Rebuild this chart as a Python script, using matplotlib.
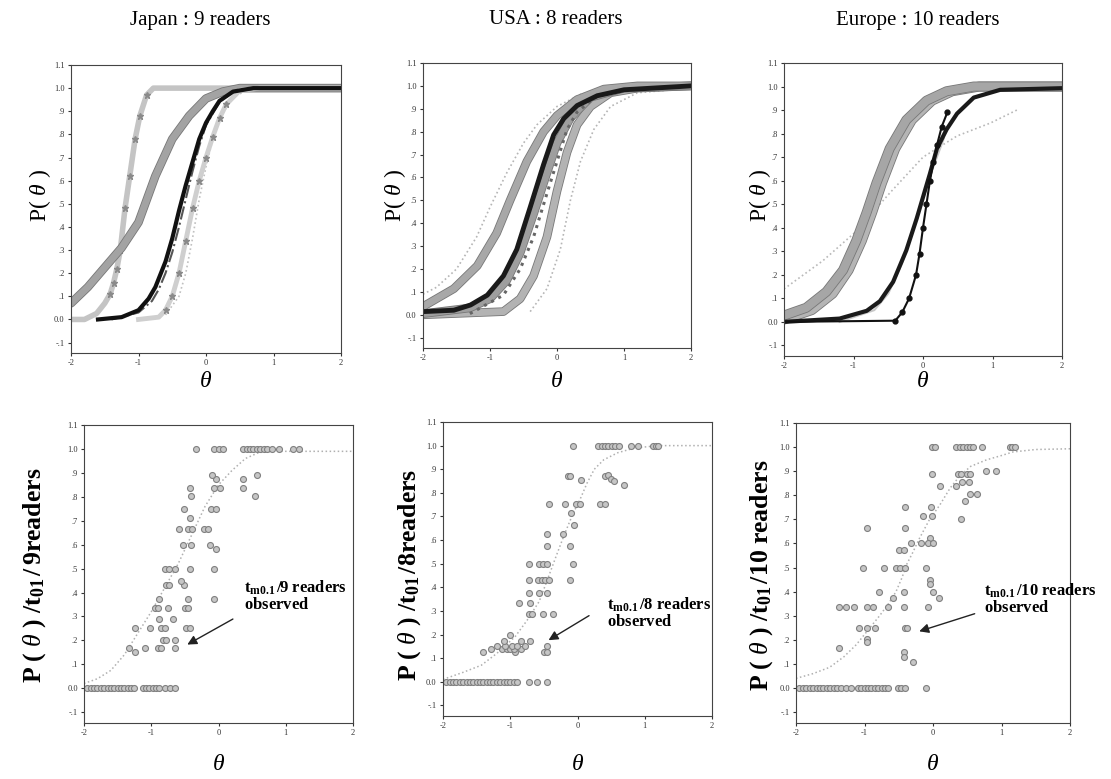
import matplotlib
matplotlib.use("Agg")
import matplotlib.pyplot as plt
import matplotlib.patheffects as pe

plt.rcParams['font.family'] = ['Liberation Serif', 'DejaVu Serif']
plt.rcParams['mathtext.fontset'] = 'custom'
plt.rcParams['mathtext.rm'] = 'Liberation Serif'
plt.rcParams['mathtext.it'] = 'Liberation Serif:italic'
plt.rcParams['mathtext.bf'] = 'Liberation Serif:bold'

W, H = 1111, 779

# ---------------- data ----------------
titles = ["Japan : 9 readers", "USA : 8 readers", "Europe : 10 readers"]
ytick_vals = [-0.1, 0.0, 0.1, 0.2, 0.3, 0.4, 0.5, 0.6, 0.7, 0.8, 0.9, 1.0, 1.1]
ytick_labels = ["-.1", "0.0", ".1", ".2", ".3", ".4", ".5", ".6", ".7", ".8", ".9", "1.0", "1.1"]
xtick_vals = [-2, -1, 0, 1, 2]
xtick_labels = ["-2", "-1", "0", "1", "2"]

# --- Japan ICC curves (top) ---
jp_a_x = [-2.0, -1.8, -1.62, -1.5, -1.42, -1.37, -1.32, -1.27, -1.2, -1.13, -1.05, -0.98, -0.88, -0.78, 2.0]
jp_a_y = [0.0, 0.0, 0.026, 0.07, 0.11, 0.157, 0.22, 0.30, 0.48, 0.62, 0.78, 0.88, 0.97, 1.0, 1.0]
jp_b_x = [-2.0, -1.75, -1.5, -1.25, -1.0, -0.75, -0.5, -0.25, 0.0, 0.25, 0.5, 1.0, 2.0]
jp_b_y = [0.07, 0.14, 0.225, 0.31, 0.42, 0.62, 0.78, 0.88, 0.955, 0.985, 1.0, 1.0, 1.0]
jp_c_x = [-1.6, -1.25, -1.0, -0.85, -0.75, -0.6, -0.5, -0.4, -0.3, -0.2, -0.1, 0.0, 0.1, 0.2, 0.4, 0.7, 2.0]
jp_c_y = [0.0, 0.01, 0.04, 0.09, 0.14, 0.25, 0.35, 0.47, 0.58, 0.68, 0.78, 0.85, 0.90, 0.945, 0.985, 1.0, 1.0]
jp_d_x = [-1.4, -1.0, -0.8, -0.7, -0.6, -0.5, -0.4, -0.3, -0.2, -0.1, 0.0, 0.2, 0.4, 0.8]
jp_d_y = [0.0, 0.03, 0.08, 0.13, 0.2, 0.29, 0.4, 0.52, 0.64, 0.75, 0.84, 0.94, 0.985, 1.0]
jp_e_x = [-1.0, -0.7, -0.6, -0.5, -0.4, -0.3, -0.2, -0.1, 0.0, 0.1, 0.2, 0.3, 0.5, 0.8, 2.0]
jp_e_y = [0.0, 0.01, 0.04, 0.10, 0.2, 0.34, 0.48, 0.6, 0.7, 0.79, 0.87, 0.93, 0.99, 1.0, 1.0]
jp_f_x = [-0.6, -0.4, -0.3, -0.2, -0.1, 0.0, 0.1, 0.2, 0.4, 0.6]
jp_f_y = [0.02, 0.1, 0.2, 0.35, 0.52, 0.66, 0.78, 0.87, 0.96, 0.99]

# --- USA ICC curves (top) ---
us_1_x = [-2.0, -1.54, -1.19, -0.9, -0.7, -0.45, -0.2, 0.0, 0.3, 0.7, 1.2, 2.0]
us_1_y = [0.036, 0.114, 0.214, 0.357, 0.5, 0.67, 0.8, 0.87, 0.94, 0.986, 1.0, 1.0]
us_2_x = [-2.0, -1.54, -1.29, -1.04, -0.8, -0.6, -0.4, -0.2, -0.05, 0.1, 0.3, 0.6, 1.0, 2.0]
us_2_y = [0.014, 0.02, 0.043, 0.086, 0.17, 0.286, 0.47, 0.657, 0.786, 0.857, 0.914, 0.957, 0.983, 1.0]
us_3_x = [-1.3, -0.8, -0.55, -0.35, -0.15, 0.0, 0.15, 0.3, 0.6, 1.0]
us_3_y = [0.005, 0.086, 0.2, 0.34, 0.53, 0.67, 0.81, 0.886, 0.957, 0.99]
us_4_x = [-2.0, -0.8, -0.55, -0.35, -0.15, 0.0, 0.15, 0.3, 0.5, 0.8, 1.2, 2.0]
us_4_y = [0.0, 0.014, 0.07, 0.17, 0.34, 0.54, 0.71, 0.83, 0.91, 0.97, 0.99, 1.0]
us_5_x = [-0.4, -0.15, 0.05, 0.2, 0.35, 0.55, 0.8, 1.2, 2.0]
us_5_y = [0.014, 0.114, 0.286, 0.5, 0.67, 0.81, 0.91, 0.97, 0.99]
us_6_x = [-2.0, -1.8, -1.5, -1.2, -1.0, -0.75, -0.5, -0.3, 0.0, 0.4]
us_6_y = [0.09, 0.12, 0.2, 0.34, 0.47, 0.62, 0.75, 0.83, 0.91, 0.97]
us_7_x = [-2.0, -1.3, -1.0, -0.75, -0.55, -0.35, -0.15, 0.0, 0.2, 0.5, 1.0, 2.0]
us_7_y = [0.005, 0.03, 0.07, 0.15, 0.27, 0.44, 0.62, 0.75, 0.86, 0.95, 0.99, 1.0]

# --- Europe ICC curves (top) ---
eu_1_x = [-2.0, -1.68, -1.39, -1.15, -0.96, -0.81, -0.67, -0.48, -0.24, 0.05, 0.34, 0.73, 2.0]
eu_1_y = [0.027, 0.06, 0.128, 0.22, 0.345, 0.466, 0.59, 0.736, 0.858, 0.94, 0.98, 1.0, 1.0]
eu_2_x = [-2.0, -1.6, -1.3, -1.07, -0.88, -0.73, -0.59, -0.4, -0.16, 0.13, 0.42, 0.81, 2.0]
eu_2_y = [0.01, 0.05, 0.12, 0.22, 0.345, 0.466, 0.59, 0.736, 0.858, 0.94, 0.98, 1.0, 1.0]
eu_3_x = [-2.0, -1.44, -0.96, -0.48, 0.0, 0.49, 0.97, 1.35]
eu_3_y = [0.14, 0.26, 0.385, 0.547, 0.7, 0.79, 0.845, 0.9]
eu_4_x = [-2.0, -1.2, -0.81, -0.62, -0.43, -0.24, -0.09, 0.03, 0.1, 0.2, 0.34, 0.49, 0.73, 1.11, 2.0]
eu_4_y = [0.0, 0.014, 0.047, 0.088, 0.17, 0.304, 0.44, 0.56, 0.63, 0.736, 0.818, 0.885, 0.953, 0.986, 0.993]
eu_5_x = [-2.0, -0.4, -0.3, -0.2, -0.1, -0.05, 0.0, 0.05, 0.1, 0.15, 0.2, 0.27, 0.35]
eu_5_y = [0.0, 0.005, 0.04, 0.1, 0.2, 0.29, 0.4, 0.5, 0.6, 0.68, 0.75, 0.83, 0.89]
eu_6_x = [-1.2, -0.7, -0.5, -0.3, -0.15, 0.0, 0.15, 0.3]
eu_6_y = [0.0, 0.05, 0.12, 0.25, 0.38, 0.52, 0.66, 0.78]

# --- bottom: observed proportions and fitted curve ---
jp_zero_x = [-1.95, -1.9, -1.85, -1.8, -1.75, -1.7, -1.65, -1.6, -1.55, -1.5, -1.45, -1.4, -1.35, -1.3, -1.25,
             -1.13, -1.08, -1.03, -0.98, -0.93, -0.88, -0.8, -0.72, -0.65]
jp_one_x = [-0.34, -0.07, 0.0, 0.07, 0.36, 0.42, 0.47, 0.52, 0.57, 0.62, 0.67, 0.72, 0.8, 0.9, 1.11, 1.2]
jp_mid_x = [-1.33, -1.09, -0.9, -0.85, -0.65, -1.24, -0.83, -0.78, -0.65, -1.24, -1.02, -0.85, -0.8, -0.48, -0.43,
            -0.88, -0.68, -0.95, -0.9, -0.75, -0.5, -0.45, -0.88, -0.46, -0.06, -0.78, -0.73, -0.52, -0.56,
            -0.8, -0.73, -0.65, -0.43, -0.06, -0.53, -0.41, -0.13, -0.04, -0.58, -0.46, -0.4, -0.21, -0.16,
            -0.43, -0.52, -0.11, -0.04, -0.41, 0.54, -0.43, -0.06, 0.02, 0.36, 0.36, -0.03, -0.09, 0.57]
jp_mid_y = [0.17, 0.17, 0.17, 0.17, 0.17, 0.15, 0.20, 0.20, 0.20, 0.25, 0.25, 0.25, 0.25, 0.25, 0.25,
            0.29, 0.29, 0.335, 0.335, 0.335, 0.335, 0.335, 0.375, 0.375, 0.375, 0.43, 0.43, 0.43, 0.45,
            0.5, 0.5, 0.5, 0.5, 0.5, 0.6, 0.6, 0.6, 0.58, 0.665, 0.665, 0.665, 0.665, 0.665,
            0.71, 0.75, 0.75, 0.75, 0.805, 0.805, 0.835, 0.835, 0.835, 0.835, 0.873, 0.875, 0.89, 0.89]
jp_fit_x = [-2.0, -1.8, -1.6, -1.4, -1.2, -1.0, -0.8, -0.6, -0.4, -0.2, 0.0, 0.2, 0.4, 0.6, 0.8, 1.0, 1.5, 2.0]
jp_fit_y = [0.02, 0.04, 0.075, 0.14, 0.23, 0.32, 0.42, 0.52, 0.64, 0.76, 0.85, 0.91, 0.96, 0.985, 0.99, 0.99, 0.99, 0.99]

us_zero_x = [-1.95, -1.9, -1.85, -1.8, -1.75, -1.7, -1.65, -1.6, -1.55, -1.5, -1.45, -1.4, -1.35, -1.3, -1.25,
             -1.2, -1.15, -1.1, -1.05, -1.0, -0.95, -0.9, -0.72, -0.6, -0.45]
us_one_x = [-0.07, 0.31, 0.36, 0.41, 0.46, 0.51, 0.56, 0.62, 0.8, 0.9, 1.12, 1.17, 1.2]
us_mid_x = [-1.41, -0.93, -0.5, -0.46, -1.28, -1.12, -1.05, -1.0, -0.95, -0.84, -1.2, -1.08, -0.98, -0.9, -0.78,
            -0.45, -1.1, -0.84, -0.7, -1.0, -0.72, -0.67, -0.52, -0.37, -0.87, -0.7, -0.72, -0.57, -0.46,
            -0.72, -0.58, -0.53, -0.48, -0.42, -0.11, -0.72, -0.57, -0.51, -0.45, -0.07, -0.46, -0.11,
            -0.46, -0.22, -0.05, -0.09, -0.42, -0.18, -0.02, 0.03, 0.33, 0.41, 0.05, -0.14, -0.11, 0.41,
            0.46, 0.5, 0.54, 0.69]
us_mid_y = [0.125, 0.125, 0.125, 0.125, 0.14, 0.14, 0.14, 0.14, 0.14, 0.14, 0.152, 0.152, 0.152, 0.152, 0.152,
            0.15, 0.172, 0.172, 0.172, 0.2, 0.285, 0.285, 0.285, 0.285, 0.332, 0.332, 0.376, 0.376, 0.376,
            0.43, 0.43, 0.43, 0.43, 0.43, 0.43, 0.498, 0.498, 0.498, 0.498, 0.498, 0.573, 0.573,
            0.624, 0.624, 0.665, 0.715, 0.752, 0.752, 0.752, 0.752, 0.752, 0.752, 0.855, 0.87, 0.87, 0.87,
            0.875, 0.86, 0.85, 0.834]
us_fit_x = [-2.0, -1.7, -1.43, -1.2, -0.93, -0.75, -0.57, -0.45, -0.32, -0.2, -0.07, 0.05, 0.14, 0.25, 0.39,
            0.6, 0.85, 1.2, 1.6, 2.0]
us_fit_y = [0.01, 0.04, 0.07, 0.12, 0.19, 0.26, 0.34, 0.43, 0.53, 0.62, 0.71, 0.78, 0.84, 0.9, 0.94,
            0.97, 0.99, 1.0, 1.0, 1.0]

eu_zero_x = [-1.95, -1.9, -1.85, -1.8, -1.75, -1.7, -1.65, -1.6, -1.55, -1.5, -1.45, -1.4, -1.35, -1.27, -1.2,
             -1.1, -1.05, -1.0, -0.95, -0.9, -0.85, -0.8, -0.75, -0.7, -0.65, -0.51, -0.46, -0.41, -0.1]
eu_one_x = [-0.02, 0.03, 0.34, 0.39, 0.44, 0.49, 0.54, 0.59, 0.71, 1.12, 1.16, 1.2]
eu_mid_x = [0.78, 0.92, -0.01, 0.37, 0.41, 0.49, 0.54, 0.1, 0.34, 0.43, 0.53, 0.54, 0.64, 0.46,
            -0.41, -0.03, -0.15, -0.01, 0.41, -0.97, -0.41, -0.04, -0.32, -0.17, -0.07, 0.0, -0.5, -0.43,
            -1.02, -0.72, -0.54, -0.48, -0.41, -0.1, -0.05, -0.05, -0.79, -0.43, 0.0, -0.58, 0.09,
            -1.37, -1.27, -1.16, -0.97, -0.87, -0.66, -0.43, -0.07, -1.08, -0.97, -0.84, -0.41, -0.38,
            -0.97, -0.96, -1.37, -0.43, -0.43, -0.29]
eu_mid_y = [0.9, 0.9, 0.89, 0.89, 0.89, 0.89, 0.89, 0.837, 0.837, 0.857, 0.857, 0.804, 0.804, 0.777,
            0.75, 0.75, 0.715, 0.715, 0.70, 0.666, 0.666, 0.623, 0.603, 0.603, 0.603, 0.603, 0.573, 0.573,
            0.5, 0.5, 0.5, 0.5, 0.5, 0.5, 0.45, 0.43, 0.397, 0.397, 0.397, 0.373, 0.373,
            0.338, 0.338, 0.338, 0.338, 0.338, 0.338, 0.338, 0.338, 0.249, 0.249, 0.249, 0.249, 0.249,
            0.203, 0.19, 0.168, 0.15, 0.13, 0.11]
eu_fit_x = [-2.0, -1.75, -1.51, -1.3, -1.12, -0.95, -0.78, -0.65, -0.54, -0.45, -0.39, -0.3, -0.2, -0.05, 0.1,
            0.25, 0.39, 0.55, 0.78, 1.0, 1.17, 1.5, 2.0]
eu_fit_y = [0.04, 0.06, 0.086, 0.13, 0.18, 0.24, 0.3, 0.35, 0.4, 0.46, 0.51, 0.56, 0.62, 0.7, 0.76,
            0.83, 0.88, 0.92, 0.947, 0.965, 0.98, 0.99, 0.993]

bottom_ylabels = [r"$\mathbf{P\ (\ }\theta\mathbf{\ )\ /t_{01}}\,\mathbf{/}\,\mathbf{9readers}$",
                  r"$\mathbf{P\ (\ }\theta\mathbf{\ )\ /t_{01}}\,\mathbf{/8readers}$",
                  r"$\mathbf{P\ (\ }\theta\mathbf{\ )\ /t_{01}}\,\mathbf{/10\ readers}$"]
annot_texts = [r"$\mathbf{t_{m0.1}}\,\mathbf{/9\ readers}$" + "\n" + r"$\mathbf{observed}$",
               r"$\mathbf{t_{m0.1}}\,\mathbf{/8\ readers}$" + "\n" + r"$\mathbf{observed}$",
               r"$\mathbf{t_{m0.1}}\,\mathbf{/10\ readers}$" + "\n" + r"$\mathbf{observed}$"]
annot_tip = [(-0.5, 0.177), (-0.466, 0.17), (-0.24, 0.232)]
annot_tail = [(0.25, 0.295), (0.207, 0.286), (0.647, 0.312)]
annot_text_pos = [(0.38, 0.385), (0.44, 0.29), (0.75, 0.37)]

# ---------------- layout ----------------
fig = plt.figure(figsize=(W / 100, H / 100), dpi=100)

def rect(l, r, t, b):
    return [l / W, 1 - b / H, (r - l) / W, (b - t) / H]

top_rects = [rect(71, 341, 65, 353), rect(423, 691, 63, 348), rect(784, 1062, 63, 356)]
bot_rects = [rect(84, 353, 425, 723), rect(443, 712, 422, 716), rect(796, 1070, 423, 723)]
title_x = [200, 556, 918]
top_ylab_x = [40, 395, 760]
bot_ylab_x = [35, 410, 762]

def style_axes(ax):
    ax.set_xlim(-2, 2)
    ax.set_ylim(-0.145, 1.1)
    ax.set_xticks(xtick_vals)
    ax.set_xticklabels(xtick_labels)
    ax.set_yticks(ytick_vals)
    ax.set_yticklabels(ytick_labels)
    ax.tick_params(labelsize=6, colors='#333333', length=2.5, width=0.8, pad=2)
    for s in ax.spines.values():
        s.set_linewidth(0.8)
        s.set_color('#444444')

def thick_gray(ax, x, y, c='#a3a3a3', lw=5):
    ax.plot(x, y, color=c, lw=lw, solid_capstyle='round',
            path_effects=[pe.Stroke(linewidth=lw + 1.2, foreground='#777777'), pe.Normal()])

# ----- top row -----
axes_top = [fig.add_axes(r) for r in top_rects]
ax = axes_top[0]
ax.plot(jp_a_x, jp_a_y, color='#c4c4c4', lw=4)
ax.plot(jp_a_x[4:13], jp_a_y[4:13], ls='none', marker='*', ms=5, color='#8a8a8a')
thick_gray(ax, jp_b_x, jp_b_y)
ax.plot(jp_f_x, jp_f_y, color='#c0c0c0', lw=1.2, ls=':')
ax.plot(jp_e_x, jp_e_y, color='#cfcfcf', lw=3.5)
ax.plot(jp_e_x[2:12], jp_e_y[2:12], ls='none', marker='*', ms=5, color='#8a8a8a')
ax.plot(jp_d_x, jp_d_y, color='#555555', lw=1.5, ls='-.')
ax.plot(jp_c_x, jp_c_y, color='#111111', lw=3)

ax = axes_top[1]
ax.plot(us_6_x, us_6_y, color='#b5b5b5', lw=1.2, ls=':')
ax.plot(us_5_x, us_5_y, color='#b5b5b5', lw=1.2, ls=':')
thick_gray(ax, us_4_x, us_4_y, c='#b3b3b3')
thick_gray(ax, us_7_x, us_7_y, c='#9e9e9e')
ax.plot(us_3_x, us_3_y, color='#666666', lw=2.2, ls=':')
thick_gray(ax, us_1_x, us_1_y, c='#a8a8a8')
ax.plot(us_2_x, us_2_y, color='#1a1a1a', lw=3.5)

ax = axes_top[2]
ax.plot(eu_3_x, eu_3_y, color='#b8b8b8', lw=1.2, ls=':')
thick_gray(ax, eu_2_x, eu_2_y, c='#b5b5b5', lw=6)
thick_gray(ax, eu_1_x, eu_1_y, c='#a6a6a6', lw=6)
ax.plot(eu_6_x, eu_6_y, color='#c8c8c8', lw=1.5)
ax.plot(eu_4_x, eu_4_y, color='#1a1a1a', lw=3)
ax.plot(eu_5_x, eu_5_y, color='#111111', lw=1.5)
ax.plot(eu_5_x[1:], eu_5_y[1:], ls='none', marker='o', ms=3.5, color='#111111')

for i, ax in enumerate(axes_top):
    style_axes(ax)
    fig.text(title_x[i] / W, 1 - 20 / H, titles[i], ha='center', va='center', fontsize=15)
    fig.text(top_ylab_x[i] / W, 1 - 195 / H, r"P( $\theta$ )", rotation=90, ha='center', va='center',
             fontsize=17)
    pos = ax.get_position()
    fig.text(pos.x0 + pos.width / 2, 1 - 382 / H, r"$\theta$", ha='center', va='center', fontsize=17)

# ----- bottom row -----
axes_bot = [fig.add_axes(r) for r in bot_rects]
panels = [
    (jp_zero_x, jp_one_x, jp_mid_x, jp_mid_y, jp_fit_x, jp_fit_y),
    (us_zero_x, us_one_x, us_mid_x, us_mid_y, us_fit_x, us_fit_y),
    (eu_zero_x, eu_one_x, eu_mid_x, eu_mid_y, eu_fit_x, eu_fit_y),
]
mk = dict(ls='none', marker='o', ms=4.3, mfc='#c6c6c6', mec='#808080', mew=0.8)
for i, (ax, (zx, ox, mx, my, fx, fy)) in enumerate(zip(axes_bot, panels)):
    ax.plot(fx, fy, color='#b0b0b0', lw=1.1, ls=':')
    ax.plot(zx, [0.0] * len(zx), **mk)
    ax.plot(ox, [1.0] * len(ox), **mk)
    ax.plot(mx, my, **mk)
    style_axes(ax)
    ax.annotate("", xy=annot_tip[i], xytext=annot_tail[i],
                arrowprops=dict(arrowstyle='-|>', color='#222222', lw=1.0, mutation_scale=14))
    ax.text(annot_text_pos[i][0], annot_text_pos[i][1], annot_texts[i], fontsize=12,
            ha='left', va='center', linespacing=1.0, clip_on=False)
    fig.text(bot_ylab_x[i] / W, 1 - 575 / H, bottom_ylabels[i], rotation=90, ha='center', va='center',
             fontsize=18.5)
    pos = ax.get_position()
    fig.text(pos.x0 + pos.width / 2, 1 - 765 / H, r"$\theta$", ha='center', va='center', fontsize=17)

fig.savefig("out.png", dpi=100)
